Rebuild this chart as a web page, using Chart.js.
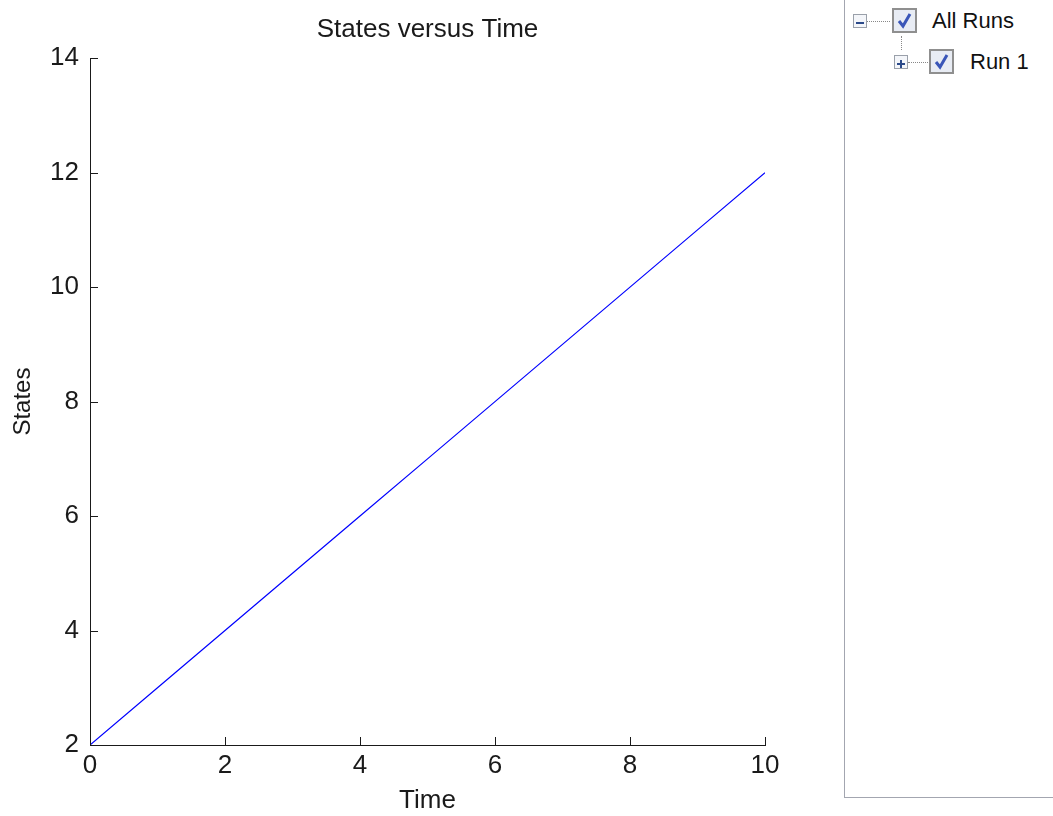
<!DOCTYPE html>
<html lang="en">
<head>
  <meta charset="UTF-8">
  <title>States versus Time</title>
  <script src="https://cdn.jsdelivr.net/npm/chart.js"></script>
  <style>
    body {
      margin: 0;
      background: #fff;
      font-family: "Liberation Sans", Arial, sans-serif;
    }
    #wrap {
      position: relative;
      width: 1053px;
      height: 816px;
      overflow: hidden;
    }
    #plot {
      position: absolute;
      left: 0;
      top: 0;
    }
    #tree {
      position: absolute;
      left: 844px;
      top: -1px;
      width: 230px;
      height: 797px;
      border: 1px solid #a3a6b0;
      background: #fff;
    }
    .node {
      position: absolute;
      font-size: 22px;
      color: #111;
      line-height: 24px;
    }
    .pm {
      position: absolute;
      width: 12px;
      height: 12px;
      border: 1px solid #9aa0aa;
      background: #f4f6fa;
    }
    .cb {
      position: absolute;
      width: 21px;
      height: 21px;
      border: 2px solid #8f8f8f;
      background: #e8ecf4;
    }
    .dots-h {
      position: absolute;
      height: 0;
      border-top: 1px dotted #888;
    }
    .dots-v {
      position: absolute;
      width: 0;
      border-left: 1px dotted #888;
    }
  </style>
</head>
<body>
<div id="wrap">
  <canvas id="plot" width="840" height="816"></canvas>

  <div id="tree">
    <!-- All Runs row -->
    <div class="pm" style="left:8px; top:14px;">
      <svg width="12" height="12"><line x1="2" y1="6" x2="10" y2="6" stroke="#2b4a8a" stroke-width="2"/></svg>
    </div>
    <div class="dots-h" style="left:22px; top:21px; width:23px;"></div>
    <div class="cb" style="left:47px; top:8px;">
      <svg width="21" height="21"><path d="M5 11 L9 16 L16 4" fill="none" stroke="#3a56b8" stroke-width="3"/></svg>
    </div>
    <div class="node" style="left:87px; top:9px;">All Runs</div>

    <div class="dots-v" style="left:56px; top:36px; height:14px;"></div>

    <!-- Run 1 row -->
    <div class="pm" style="left:49px; top:55px;">
      <svg width="12" height="12"><line x1="2" y1="6" x2="10" y2="6" stroke="#2b4a8a" stroke-width="2"/><line x1="6" y1="2" x2="6" y2="10" stroke="#2b4a8a" stroke-width="2"/></svg>
    </div>
    <div class="dots-h" style="left:63px; top:62px; width:20px;"></div>
    <div class="cb" style="left:84px; top:49px;">
      <svg width="21" height="21"><path d="M5 11 L9 16 L16 4" fill="none" stroke="#3a56b8" stroke-width="3"/></svg>
    </div>
    <div class="node" style="left:125px; top:50px;">Run 1</div>
  </div>
</div>

<script>
  // values
  const times = [0, 1, 2, 3, 4, 5, 6, 7, 8, 9, 10];
  const states = [2, 3, 4, 5, 6, 7, 8, 9, 10, 11, 12];

  const xTicks = [0, 2, 4, 6, 8, 10];
  const yTicks = [2, 4, 6, 8, 10, 12, 14];

  const fontFamily = '"Liberation Sans", Arial, sans-serif';
  const axisColor = '#1a1a1a';
  const textColor = '#1a1a1a';

  // MATLAB style ticks pointing into the plot area
  const inwardTicks = {
    id: 'inwardTicks',
    afterDraw(chart) {
      const { ctx, chartArea, scales } = chart;
      const len = 8;
      ctx.save();
      ctx.strokeStyle = axisColor;
      ctx.lineWidth = 1;
      ctx.beginPath();
      xTicks.forEach(v => {
        const x = Math.round(scales.x.getPixelForValue(v)) + 0.5;
        ctx.moveTo(x, chartArea.bottom);
        ctx.lineTo(x, chartArea.bottom - len);
      });
      yTicks.forEach(v => {
        const y = Math.round(scales.y.getPixelForValue(v)) + 0.5;
        ctx.moveTo(chartArea.left, y);
        ctx.lineTo(chartArea.left + len, y);
      });
      ctx.stroke();
      ctx.restore();
    }
  };

  const ctx = document.getElementById('plot').getContext('2d');
  new Chart(ctx, {
    type: 'line',
    data: {
      datasets: [{
        label: 'Run 1',
        data: times.map((t, i) => ({ x: t, y: states[i] })),
        borderColor: '#0000ff',
        borderWidth: 1.2,
        pointRadius: 0,
        fill: false,
        tension: 0
      }]
    },
    options: {
      responsive: false,
      animation: false,
      layout: { padding: { left: 0, right: 75, top: 0, bottom: 0 } },
      plugins: {
        legend: { display: false },
        tooltip: { enabled: false },
        title: {
          display: true,
          fullSize: false,
          text: 'States versus Time',
          color: textColor,
          font: { family: fontFamily, size: 26, weight: 'normal' },
          padding: { top: 14, bottom: 13 }
        }
      },
      scales: {
        x: {
          type: 'linear',
          min: 0,
          max: 10,
          afterFit(scale) { scale.height = 71; },
          afterBuildTicks(scale) { scale.ticks = xTicks.map(v => ({ value: v })); },
          grid: { display: false, drawTicks: false },
          border: { display: true, color: axisColor, width: 1 },
          ticks: {
            color: textColor,
            padding: 5,
            maxRotation: 0,
            font: { family: fontFamily, size: 26 }
          },
          title: {
            display: true,
            text: 'Time',
            color: textColor,
            font: { family: fontFamily, size: 26 },
            padding: { top: 0, bottom: 0 }
          }
        },
        y: {
          type: 'linear',
          min: 2,
          max: 14,
          afterFit(scale) { scale.width = 90; },
          afterBuildTicks(scale) { scale.ticks = yTicks.map(v => ({ value: v })); },
          grid: { display: false, drawTicks: false },
          border: { display: true, color: axisColor, width: 1 },
          ticks: {
            color: textColor,
            padding: 11,
            font: { family: fontFamily, size: 26 }
          },
          title: {
            display: true,
            text: 'States',
            color: textColor,
            font: { family: fontFamily, size: 24 },
            padding: { top: 9, bottom: 0 }
          }
        }
      }
    },
    plugins: [inwardTicks]
  });
</script>
</body>
</html>
